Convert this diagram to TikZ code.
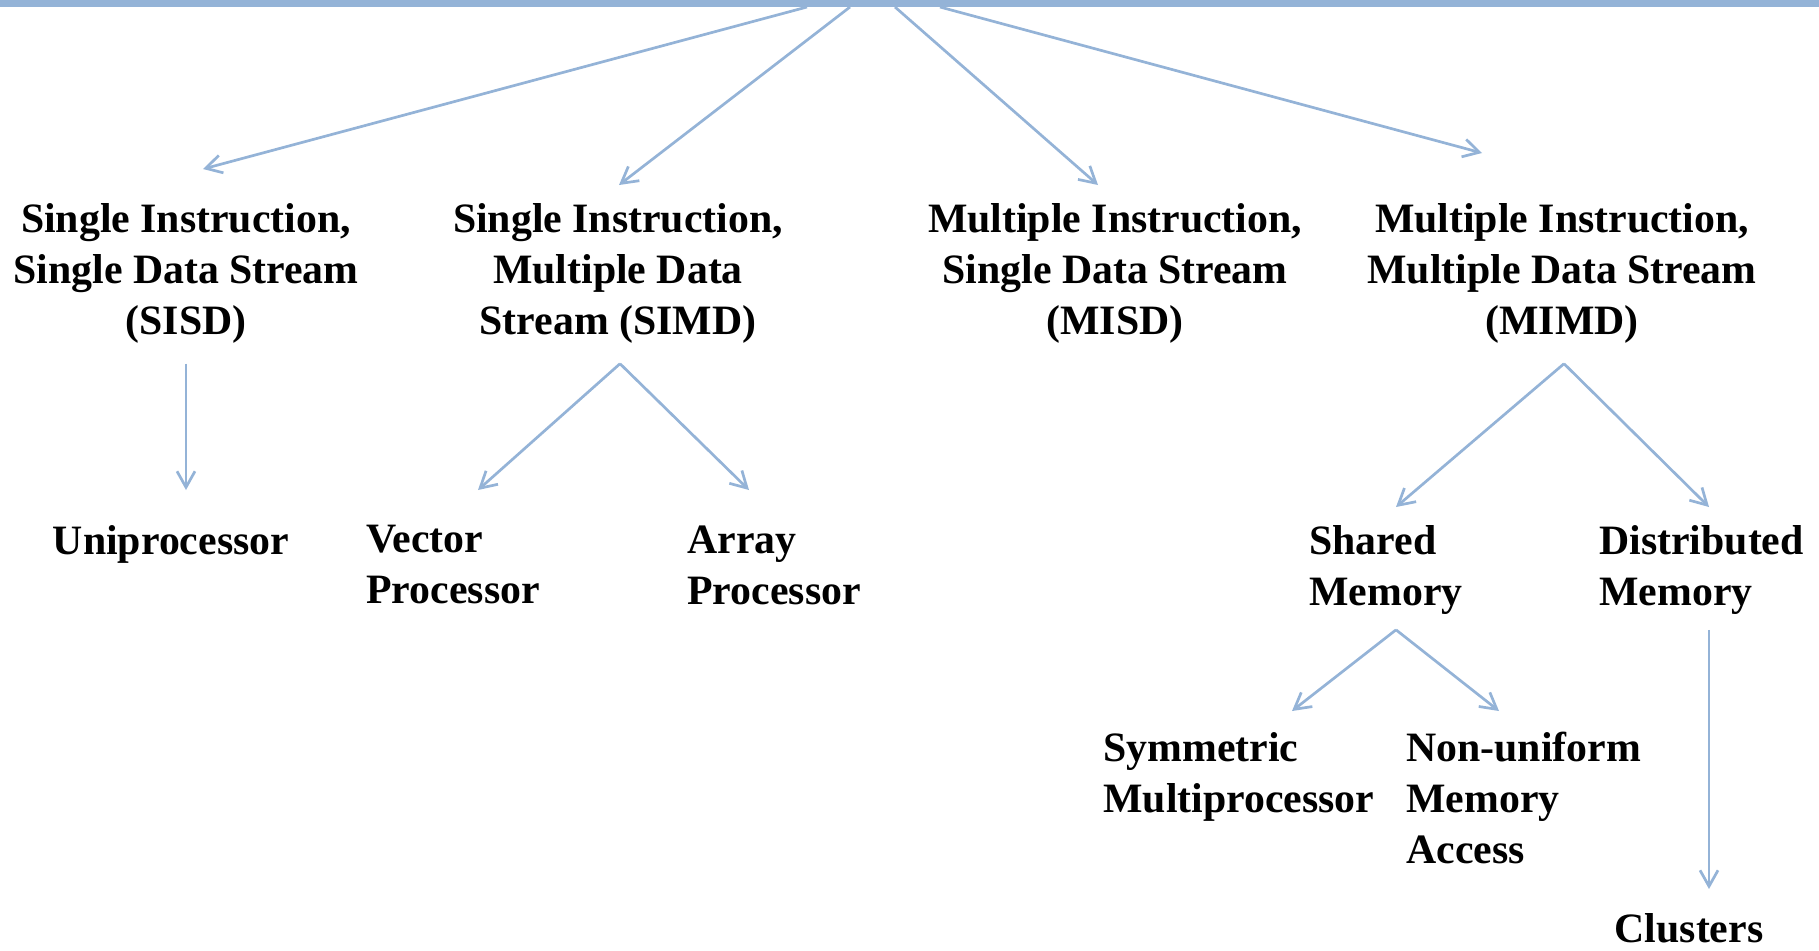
\documentclass[tikz,border=0pt]{standalone}
\usepackage{fontspec}
\setmainfont{Liberation Serif}
\usetikzlibrary{arrows.meta,calc}
\definecolor{linkblue}{RGB}{148,179,215}
\begin{document}
\begin{tikzpicture}[x=0.5pt,y=-0.5pt,
  lbl/.style={inner sep=0pt, font=\fontsize{20.9}{25.5}\selectfont\bfseries},
  ctr/.style={lbl, align=center, anchor=north},
  lft/.style={lbl, align=left, anchor=north west},
  arr/.style={draw=linkblue, line width=1.35pt, -{Straight Barb[length=8pt,width=9pt]}}]
\useasboundingbox (0,0) rectangle (1819,950);
% top bar (parent box edge)
\fill[linkblue] (0,0) rectangle (1819,7);
\coordinate (t1) at (807,7);
\coordinate (t2) at (850,7);
\coordinate (t3) at (895,7);
\coordinate (t4) at (940,7);
% level 1
\node[ctr] (sisd) at (186,203) {Single Instruction,\\Single Data Stream\\(SISD)};
\node[ctr] (simd) at (618,203) {Single Instruction,\\Multiple Data\\Stream (SIMD)};
\node[ctr] (misd) at (1115,203) {Multiple Instruction,\\Single Data Stream\\(MISD)};
\node[ctr] (mimd) at (1562,203) {Multiple Instruction,\\Multiple Data Stream\\(MIMD)};
% level 2
\node[ctr] (uni) at (171,525) {Uniprocessor};
\node[lft] (vec) at (366,525) {Vector\\Processor};
\node[lft] (arp) at (687,525) {Array\\Processor};
\node[lft] (shm) at (1309,525) {Shared\\Memory};
\node[lft] (dsm) at (1599,525) {Distributed\\Memory};
% level 3
\node[lft] (smp) at (1103,732) {Symmetric\\Multiprocessor};
\node[lft] (numa) at (1406,732) {Non-uniform\\Memory\\Access};
\node[ctr] (clu) at (1689,913) {Clusters};
% connectors
\draw[arr] (t1) -- ($(sisd.north)+(17,-34)$);
\draw[arr] (t2) -- ($(simd.north)+(1,-18)$);
\draw[arr] (t3) -- ($(misd.north)+(-17,-18)$);
\draw[arr] (t4) -- ($(mimd.north)+(-80,-50)$);
\draw[arr] ($(sisd.south)+(0,20)$) -- ($(uni.north)+(15,-35)$);
\draw[arr] ($(simd.south)+(2,20)$) -- ($(vec.north west)+(112,-35)$);
\draw[arr] ($(simd.south)+(2,20)$) -- ($(arp.north west)+(62,-35)$);
\draw[arr] ($(mimd.south)+(2,20)$) -- ($(shm.north west)+(87,-18)$);
\draw[arr] ($(mimd.south)+(2,20)$) -- ($(dsm.north west)+(110,-18)$);
\draw[arr] ($(shm.south west)+(87,15)$) -- ($(smp.north west)+(189,-21)$);
\draw[arr] ($(shm.south west)+(87,15)$) -- ($(numa.north west)+(93,-21)$);
\draw[arr] ($(dsm.south west)+(110,15)$) -- ($(clu.north)+(20,-24)$);
\end{tikzpicture}
\end{document}
